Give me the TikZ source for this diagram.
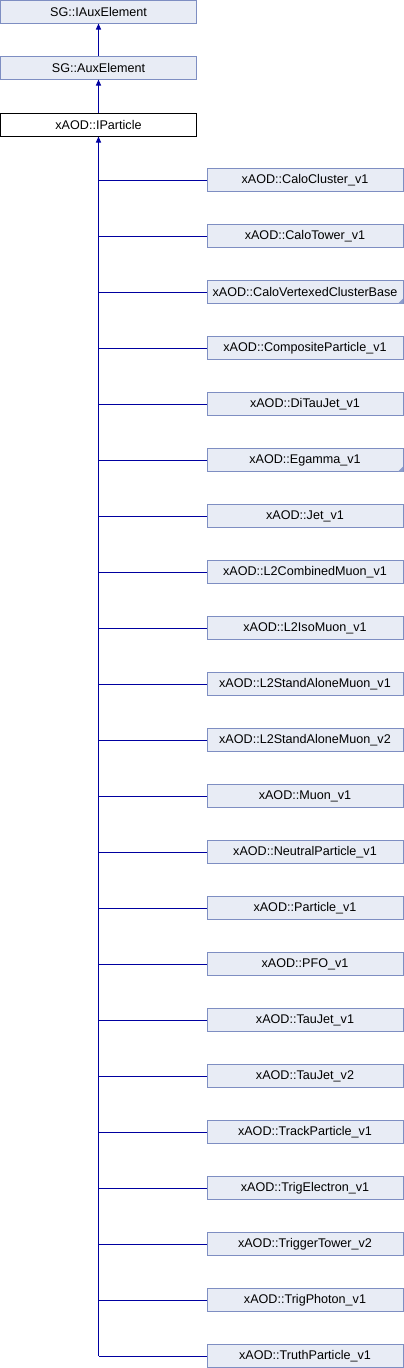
\documentclass[tikz,border=0pt]{standalone}
\usepackage{fontspec}
\setmainfont{Liberation Sans}
\usetikzlibrary{arrows.meta}
\definecolor{boxfill}{RGB}{232,236,245}
\definecolor{boxline}{RGB}{126,142,194}
\definecolor{edgeblue}{RGB}{0,0,160}
\definecolor{moremark}{RGB}{140,156,204}

\begin{document}
\begin{tikzpicture}[x=1pt,y=-1pt,
		cls/.style={draw=boxline,fill=boxfill,line width=1pt,inner sep=0pt,
			minimum width=196pt,minimum height=23pt,
			font=\fontsize{12.6}{14}\selectfont},
		cur/.style={cls,draw=black,fill=white},
		inh/.style={edgeblue,line width=1pt},
		inharrow/.style={inh,-{Triangle[length=6pt,width=5pt]}}]
				\useasboundingbox (0,0) rectangle (404,1368);
				% base classes
				\node[cls] (iaux) at (98.5,11.5) {SG::IAuxElement};
				\node[cls] (aux) at (98.5,67.5) {SG::AuxElement};
				\node[cur] (ip) at (98.5,124.5) {xAOD::IParticle};
				\draw[inharrow] (aux) -- (iaux);
				\draw[inharrow] (ip) -- (aux);
				% derived classes
				\foreach \cname [count=\i] in {CaloCluster\_v1,CaloTower\_v1,CaloVertexedClusterBase,
						CompositeParticle\_v1,DiTauJet\_v1,Egamma\_v1,Jet\_v1,L2CombinedMuon\_v1,
						L2IsoMuon\_v1,L2StandAloneMuon\_v1,L2StandAloneMuon\_v2,Muon\_v1,
						NeutralParticle\_v1,Particle\_v1,PFO\_v1,TauJet\_v1,TauJet\_v2,
						TrackParticle\_v1,TrigElectron\_v1,TriggerTower\_v2,TrigPhoton\_v1,
						TruthParticle\_v1}
				{
					\node[cls] (c\i) at (305,{180+56*(\i-1)}) {xAOD::\cname};
					\draw[inh] (ip.south |- c\i.west) -- (c\i.west);
				}
				\draw[inharrow] (ip.south |- c22.west) -- (ip.south);
				% classes with more derived classes
				\foreach \c in {c3,c6}
					\fill[moremark] ([shift={(-0.5,-0.5)}]\c.south east) -- ++(0,-5) -- ++(-5,5) -- cycle;
			\end{tikzpicture}
\end{document}
